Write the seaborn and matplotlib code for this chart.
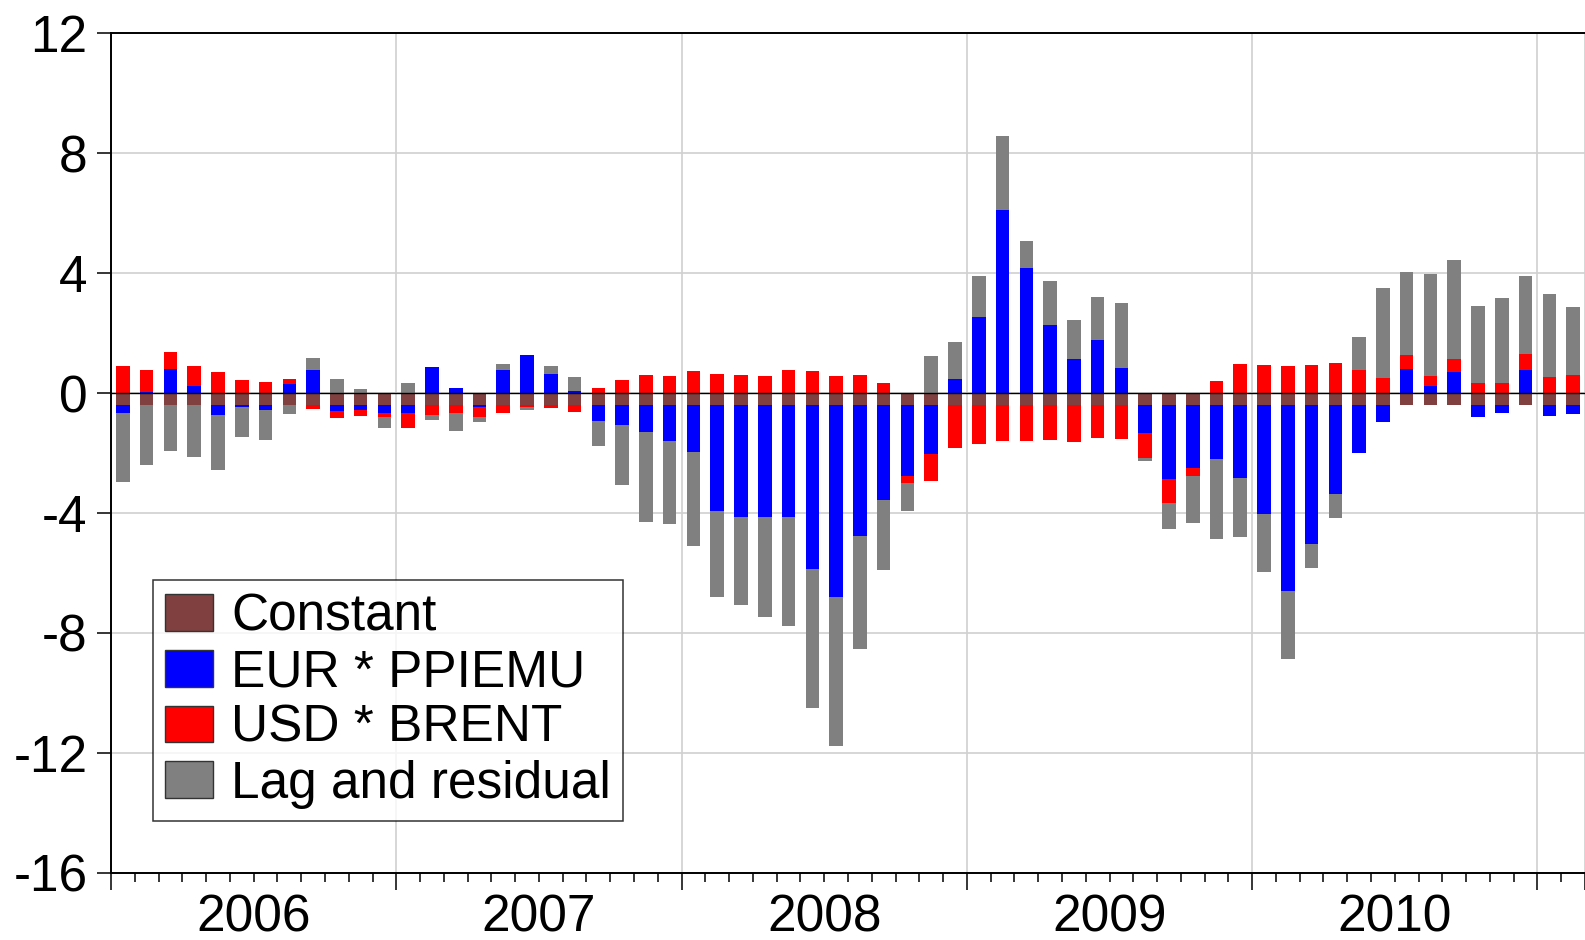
import numpy as np
import pandas as pd
import matplotlib
matplotlib.use("Agg")
import matplotlib.pyplot as plt
from matplotlib.patches import Patch
import matplotlib.transforms as mtransforms
import seaborn as sns

# ====== Data (monthly contributions, Jan 2006 - Feb 2011) ======
months = pd.date_range("2006-01-01", periods=62, freq="MS")
years = [2006, 2007, 2008, 2009, 2010]

constant = [-0.4] * 62

eur_ppiemu = [
    -0.27, 0.05, 0.81, 0.24, -0.34, -0.08, -0.18, 0.30, 0.78, -0.20, -0.16, -0.28,
    -0.27, 0.87, 0.16, -0.08, 0.78, 1.28, 0.64, 0.08, -0.54, -0.66, -0.89, -1.19,
    -1.58, -3.54, -3.73, -3.72, -3.72, -5.47, -6.41, -4.36, -3.16, -2.36, -1.63, 0.48,
    2.52, 6.09, 4.17, 2.27, 1.12, 1.77, 0.82, -0.93, -2.48, -2.09, -1.80, -2.42,
    -3.62, -6.19, -4.63, -2.98, -1.60, -0.58, 0.80, 0.24, 0.70, -0.41, -0.27, 0.77,
    -0.36, -0.30,
]

usd_brent = [
    0.89, 0.72, 0.56, 0.66, 0.69, 0.42, 0.37, 0.18, -0.12, -0.22, -0.22, -0.13,
    -0.49, -0.33, -0.27, -0.33, -0.27, -0.07, -0.11, -0.23, 0.17, 0.42, 0.61, 0.57,
    0.72, 0.64, 0.59, 0.56, 0.76, 0.74, 0.58, 0.59, 0.33, -0.24, -0.90, -1.43,
    -1.30, -1.20, -1.20, -1.18, -1.23, -1.09, -1.14, -0.83, -0.80, -0.27, 0.40, 0.97,
    0.94, 0.90, 0.94, 0.99, 0.76, 0.51, 0.48, 0.32, 0.43, 0.33, 0.33, 0.53,
    0.52, 0.60,
]

lag_residual = [
    -2.28, -1.99, -1.54, -1.73, -1.83, -0.97, -0.97, -0.29, 0.38, 0.48, 0.12, -0.37,
    0.33, -0.18, -0.59, -0.17, 0.20, -0.09, 0.27, 0.46, -0.83, -2.00, -3.02, -2.77,
    -3.11, -2.87, -2.92, -3.36, -3.63, -4.62, -4.97, -3.78, -2.33, -0.94, 1.22, 1.22,
    1.38, 2.49, 0.89, 1.48, 1.30, 1.43, 2.18, -0.11, -0.86, -1.57, -2.67, -1.98,
    -1.94, -2.29, -0.81, -0.80, 1.12, 3.00, 2.77, 3.41, 3.30, 2.56, 2.83, 2.61,
    2.78, 2.28,
]

series_names = ["Constant", "EUR * PPIEMU", "USD * BRENT", "Lag and residual"]
series_colors = ["#804040", "#0000ff", "#ff0000", "#808080"]

df = pd.DataFrame({
    "month": months,
    "Constant": constant,
    "EUR * PPIEMU": eur_ppiemu,
    "USD * BRENT": usd_brent,
    "Lag and residual": lag_residual,
})

# ====== Style ======
sns.set_theme(style="white")
plt.rcParams["font.family"] = ["Liberation Sans", "DejaVu Sans"]
plt.rcParams["text.color"] = "black"
plt.rcParams["xtick.color"] = "black"
plt.rcParams["ytick.color"] = "black"
FS = 37

fig = plt.figure(figsize=(15.85, 9.4), dpi=100)
ax = fig.add_axes([111 / 1585, 1 - 873 / 940, 1 - 111 / 1585, (873 - 33) / 940])

# stacked bars: positives stack up from 0, negatives stack down from 0
x = np.arange(len(df)) + 0.5
pos_bottom = np.zeros(len(df))
neg_bottom = np.zeros(len(df))
for name, color in zip(series_names, series_colors):
    vals = df[name].to_numpy(dtype=float)
    bottom = np.where(vals >= 0, pos_bottom, neg_bottom)
    ax.bar(x, vals, width=0.57, bottom=bottom, color=color, edgecolor="none",
           linewidth=0, zorder=2)
    pos_bottom += np.clip(vals, 0, None)
    neg_bottom += np.clip(vals, None, 0)

ax.axhline(0, color="black", lw=1.0, zorder=3)

# ====== Axes ======
ax.set_xlim(0, len(df))
ax.set_ylim(-16, 12)
ax.set_yticks(np.arange(-16, 13, 4))
ax.set_yticklabels([str(v) for v in range(-16, 13, 4)], fontsize=FS, color="black")

year_starts = [i for i, m in enumerate(months) if m.month == 1]
ax.set_xticks(year_starts + [len(df)])
ax.set_xticklabels([])
ax.set_xticks([i for i in range(len(df)) if i not in year_starts], minor=True)

ax.grid(True, which="major", color="#d0d0d0", lw=1.2, zorder=0)
ax.set_axisbelow(True)

ax.tick_params(axis="y", which="major", direction="out", length=10, width=1.1,
               pad=7, left=True, colors="black")
ax.tick_params(axis="x", which="major", direction="out", length=12, width=1.1,
               bottom=True, colors="black")
ax.tick_params(axis="x", which="minor", direction="out", length=6.5, width=1.1,
               bottom=True, colors="black")

for side in ["left", "bottom", "top"]:
    ax.spines[side].set_color("black")
    ax.spines[side].set_linewidth(1.4)
ax.spines["right"].set_visible(False)

trans = mtransforms.blended_transform_factory(ax.transData, ax.transAxes)
for k, yr in enumerate(years):
    ax.text(year_starts[k] + 6, -0.070, str(yr), transform=trans, ha="center",
            va="baseline", fontsize=FS, color="black")

# ====== Legend ======
handles = [Patch(facecolor=c, edgecolor="#333333", linewidth=1.0)
           for c in series_colors]
leg = ax.legend(handles, series_names, loc="lower left",
                bbox_to_anchor=((153 - 111) / 1474, (873 - 821) / 840),
                borderaxespad=0, fontsize=FS, frameon=True, fancybox=False,
                labelspacing=0.13, handlelength=0.92, handleheight=0.72,
                handletextpad=0.36, borderpad=0.24)
leg.get_frame().set_edgecolor("black")
leg.get_frame().set_linewidth(1.1)
leg.set_zorder(5)
for t in leg.get_texts():
    t.set_color("black")

fig.savefig("out.png", dpi=100)
